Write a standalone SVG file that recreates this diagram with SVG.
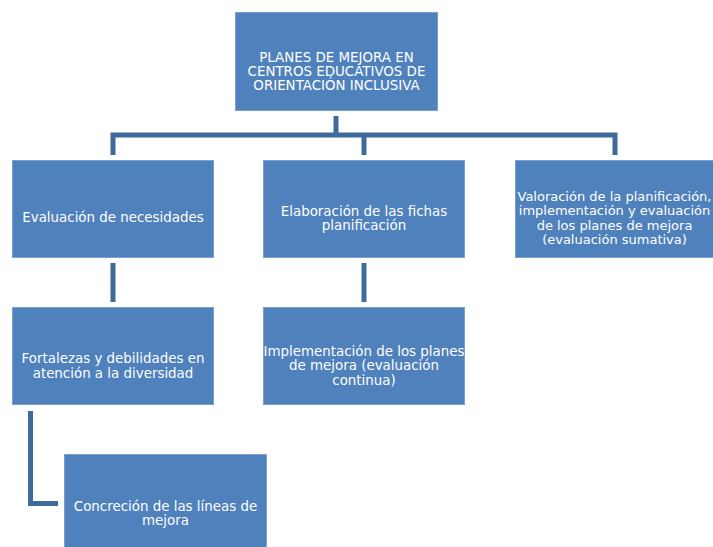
<svg xmlns="http://www.w3.org/2000/svg" width="713" height="547" viewBox="0 0 713 547">
<style>
.box{fill:#4F81BD;stroke:#7A9FD0;stroke-width:1}
.t{font-family:"DejaVu Sans",Verdana,sans-serif;font-size:13.4px;fill:#FFFFFF;text-anchor:middle}
.s{font-size:13px}
.c{fill:none;stroke:#3F6A9C;stroke-width:5;stroke-linejoin:miter}
</style>
<rect width="713" height="547" fill="#FFFFFF"/>
<g id="connectors">
<path class="c" d="M336 116 V135"/>
<path class="c" d="M113 155 V135 H615 V155"/>
<path class="c" d="M364 135 V155"/>
<path class="c" d="M113 263 V302"/>
<path class="c" d="M364 263 V302"/>
<path class="c" d="M30.5 411 V503.5 H58"/>
</g>
<g id="root">
<rect class="box" x="235.5" y="12.5" width="202" height="98"/>
<text class="t" x="336.5" y="62">PLANES DE MEJORA EN</text>
<text class="t" x="336.5" y="76">CENTROS EDUCATIVOS DE</text>
<text class="t" x="336.5" y="90">ORIENTACIÓN INCLUSIVA</text>
</g>
<g id="n1">
<rect class="box" x="12.5" y="160.5" width="201" height="97"/>
<text class="t" x="113" y="221.5">Evaluación de necesidades</text>
</g>
<g id="n2">
<rect class="box" x="263.5" y="160.5" width="201" height="97"/>
<text class="t" x="364" y="215.5">Elaboración de las fichas</text>
<text class="t" x="364" y="229.5">planificación</text>
</g>
<g id="n3">
<rect class="box" x="515.5" y="160.5" width="202" height="97"/>
<text class="t s" x="614.5" y="200.5">Valoración de la planificación,</text>
<text class="t s" x="614.5" y="215">implementación y evaluación</text>
<text class="t s" x="614.5" y="229.5">de los planes de mejora</text>
<text class="t s" x="614.5" y="244">(evaluación sumativa)</text>
</g>
<g id="n4">
<rect class="box" x="12.5" y="307.5" width="201" height="97"/>
<text class="t" x="113" y="362.5">Fortalezas y debilidades en</text>
<text class="t" x="113" y="377.5">atención a la diversidad</text>
</g>
<g id="n5">
<rect class="box" x="263.5" y="307.5" width="201" height="97"/>
<text class="t" x="364" y="355.5">Implementación de los planes</text>
<text class="t" x="364" y="370">de mejora (evaluación</text>
<text class="t" x="364" y="384.5">continua)</text>
</g>
<g id="n6">
<rect class="box" x="64.5" y="454.5" width="202" height="100"/>
<text class="t" x="165.5" y="510.5">Concreción de las líneas de</text>
<text class="t" x="165.5" y="525">mejora</text>
</g>
</svg>
